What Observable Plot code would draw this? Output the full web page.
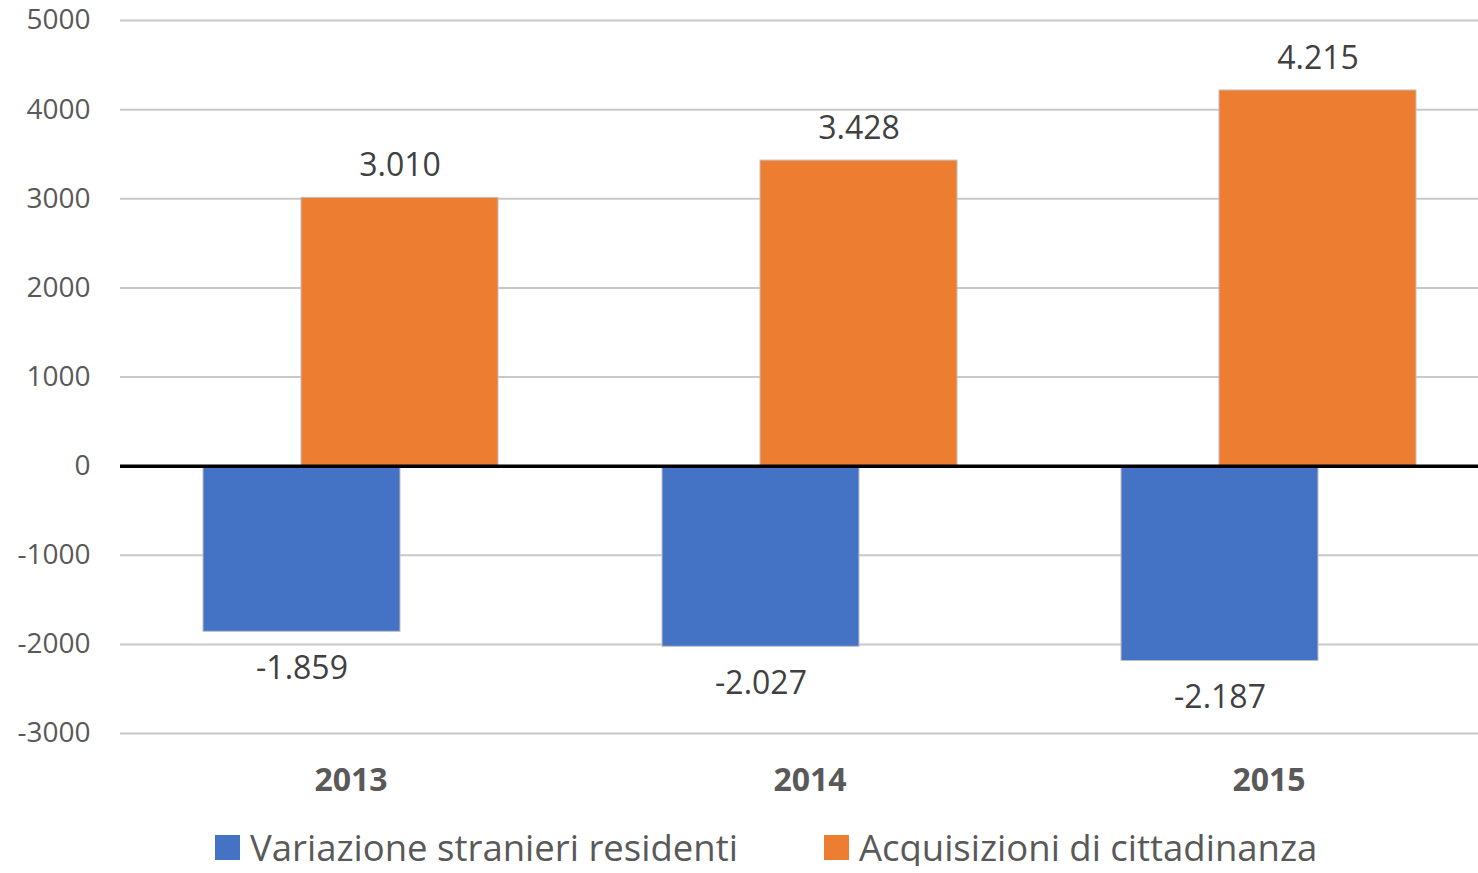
<!DOCTYPE html>
<html>
<head>
<meta charset="utf-8">
<script src="https://cdn.jsdelivr.net/npm/d3@7"></script>
<script src="https://cdn.jsdelivr.net/npm/@observablehq/plot@0.6"></script>
<style>
  body { margin: 0; background: #fff; font-family: "Open Sans", sans-serif; }
  #chart { height: 800px; }
  #chart svg { display: block; }
  #legend { margin-top: 28px; padding-left: 215px; display: flex; align-items: center; height: 38px; line-height: 38px; color: #595959; font-size: 36.5px; white-space: nowrap; }
  .item { display: flex; align-items: center; }
  .sw { width: 25px; height: 25px; margin-right: 10px; }
</style>
</head>
<body>
<div id="chart"></div>
<div id="legend"></div>
<script>
const years = ["2013", "2014", "2015"];
const variazione = [-1859, -2027, -2187];
const acquisizioni = [3010, 3428, 4215];
const yTicks = [-3000, -2000, -1000, 0, 1000, 2000, 3000, 4000, 5000];
const seriesNames = ["Variazione stranieri residenti", "Acquisizioni di cittadinanza"];
const seriesColors = ["#4472C4", "#ED7D31"];

const it = d3.formatLocale({decimal: ",", thousands: ".", grouping: [3], currency: ["", "€"], minus: "-"});
const fmt = it.format(",d");

const blue = years.map((y, i) => ({year: y, value: variazione[i]}));
const orange = years.map((y, i) => ({year: y, value: acquisizioni[i]}));

const off = 49;
const chart = Plot.plot({
  width: 1478,
  height: 800,
  marginLeft: 120,
  marginRight: 0,
  marginTop: 20,
  marginBottom: 67,
  style: {fontFamily: "Open Sans, sans-serif", background: "#fff"},
  x: {domain: years, range: [120, 1498.5], paddingInner: 0.571, paddingOuter: 0.2855, align: 0.5},
  y: {domain: [-3000, 5000]},
  marks: [
    Plot.ruleY(yTicks, {stroke: "#c8c8c8", strokeWidth: 2}),
    Plot.axisY({ticks: yTicks, tickFormat: d => String(d), tickSize: 0, tickPadding: 30, fontSize: 28, color: "#595959", label: null}),
    Plot.axisX({tickSize: 0, tickPadding: 35, fontSize: 32, fontWeight: "bold", color: "#595959", label: null}),
    Plot.barY(blue, {x: "year", y: "value", fill: seriesColors[0], stroke: "#c0c0c0", strokeWidth: 1, dx: -off}),
    Plot.barY(orange, {x: "year", y: "value", fill: seriesColors[1], stroke: "#c0c0c0", strokeWidth: 1, dx: off}),
    Plot.ruleY([0], {stroke: "#000", strokeWidth: 3.5}),
    Plot.text(orange, {x: "year", y: "value", text: d => fmt(d.value), dx: off, dy: -32, fontSize: 32, fill: "#404040", lineAnchor: "middle"}),
    Plot.text(blue, {x: "year", y: "value", text: d => fmt(d.value), dx: -off, dy: 37, fontSize: 32, fill: "#404040", lineAnchor: "middle"})
  ]
});
document.getElementById("chart").appendChild(chart);

const legend = document.getElementById("legend");
seriesNames.forEach((name, i) => {
  const item = document.createElement("div");
  item.className = "item";
  if (i > 0) item.style.marginLeft = "86px";
  const sw = document.createElement("div");
  sw.className = "sw";
  sw.style.background = seriesColors[i];
  const t = document.createElement("span");
  t.textContent = name;
  item.appendChild(sw);
  item.appendChild(t);
  legend.appendChild(item);
});
</script>
</body>
</html>
